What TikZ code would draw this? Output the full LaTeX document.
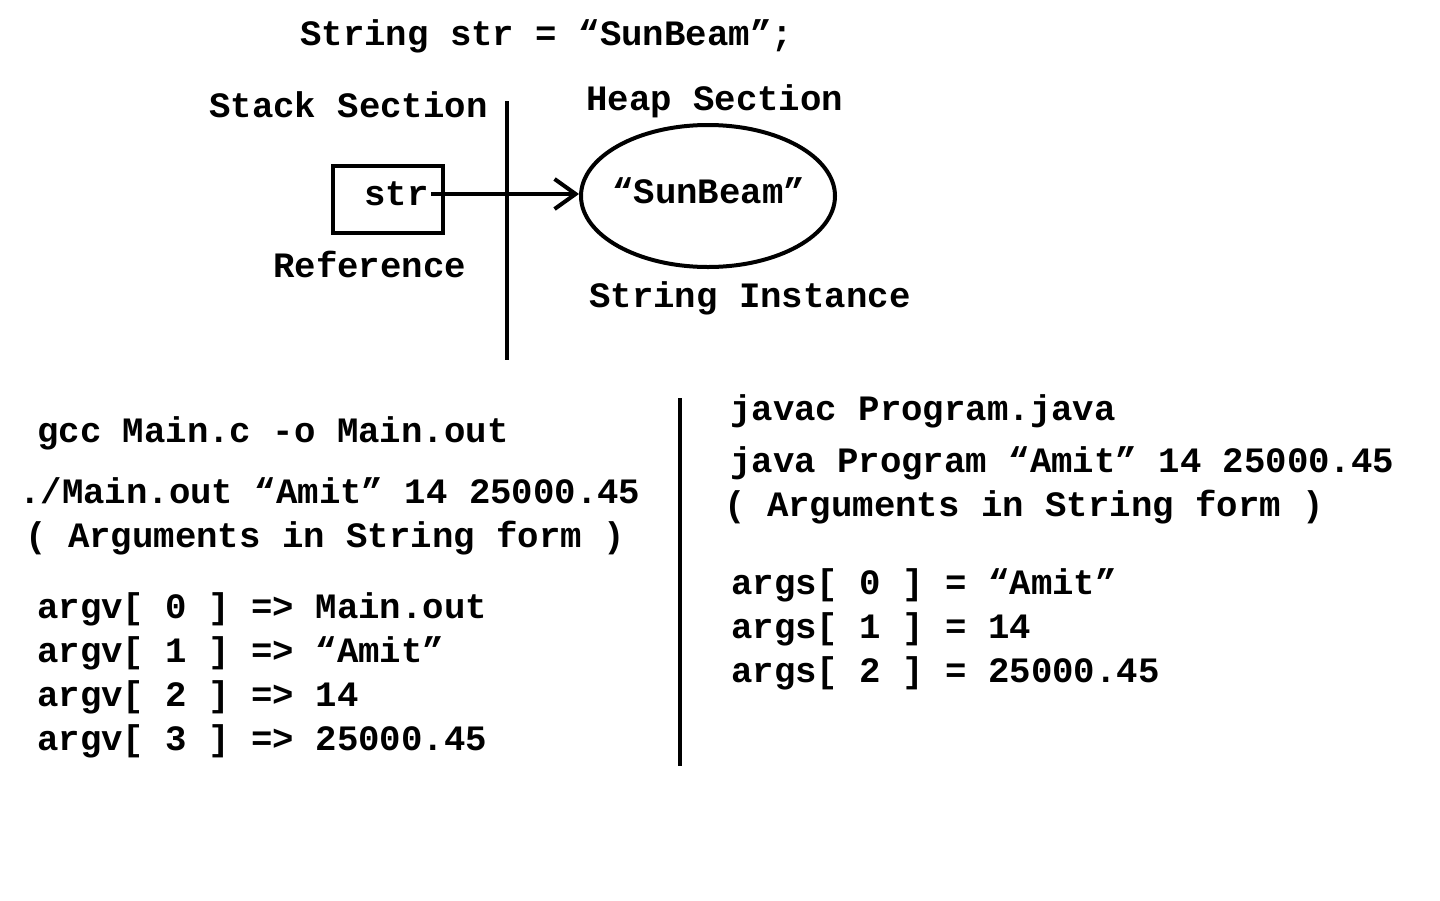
\documentclass[tikz,border=0pt]{standalone}
\usepackage{fontspec}
\usetikzlibrary{arrows.meta,shapes.geometric}
\newfontfamily\cour{Liberation Mono}
\begin{document}
\begin{tikzpicture}[x=1pt,y=-1pt,
  txt/.style={anchor=base west,inner sep=0pt,font=\cour\bfseries\fontsize{35.7}{40}\selectfont},
  ln/.style={line width=4pt}]
\useasboundingbox[fill=white] (0,0) rectangle (1440,900);
\node[txt] (title) at (300,45) {String str = “SunBeam”;};
\node[txt] (stack) at (209,117) {Stack Section};
\node[txt] (heap) at (586,110) {Heap Section};
\coordinate (sepT) at (507,101);
\coordinate (sepB) at (507,360);
\draw[ln] (sepT) -- (sepB);
\node[draw,line width=3.5pt,minimum width=110pt,minimum height=67pt,inner sep=0pt] (box) at (388,199.5) {};
\node[txt] (str) at (364,205) {str};
\node[draw,ellipse,line width=4pt,minimum width=254pt,minimum height=142pt,inner sep=0pt] (obj) at (708,196) {};
\node[txt] (sb) at (612,203) {“SunBeam”};
\coordinate (arrS) at (431,194);
\draw[ln,-{Straight Barb[length=21pt,width=30pt,line width=4pt]}] (arrS) -- (obj.west |- arrS);
\node[txt] (ref) at (273,277) {Reference};
\node[txt] (inst) at (589,307) {String Instance};
% bottom left
\node[txt] (gcc) at (37,442) {gcc Main.c -o Main.out};
\node[txt] (run) at (19,503) {./Main.out “Amit” 14 25000.45};
\node[txt] (argsL) at (25,547) {( Arguments in String form )};
\node[txt] (v0) at (37,618) {argv[ 0 ] => Main.out};
\node[txt] (v1) at (37,662) {argv[ 1 ] => “Amit”};
\node[txt] (v2) at (37,706) {argv[ 2 ] => 14};
\node[txt] (v3) at (37,750) {argv[ 3 ] => 25000.45};
\coordinate (midT) at (680,398);
\coordinate (midB) at (680,766);
\draw[ln] (midT) -- (midB);
% bottom right
\node[txt] (javac) at (730,420) {javac Program.java};
\node[txt] (java) at (730,472) {java Program “Amit” 14 25000.45};
\node[txt] (argsR) at (724,516) {( Arguments in String form )};
\node[txt] (a0) at (731,594) {args[ 0 ] = “Amit”};
\node[txt] (a1) at (731,638) {args[ 1 ] = 14};
\node[txt] (a2) at (731,682) {args[ 2 ] = 25000.45};
\end{tikzpicture}
\end{document}
